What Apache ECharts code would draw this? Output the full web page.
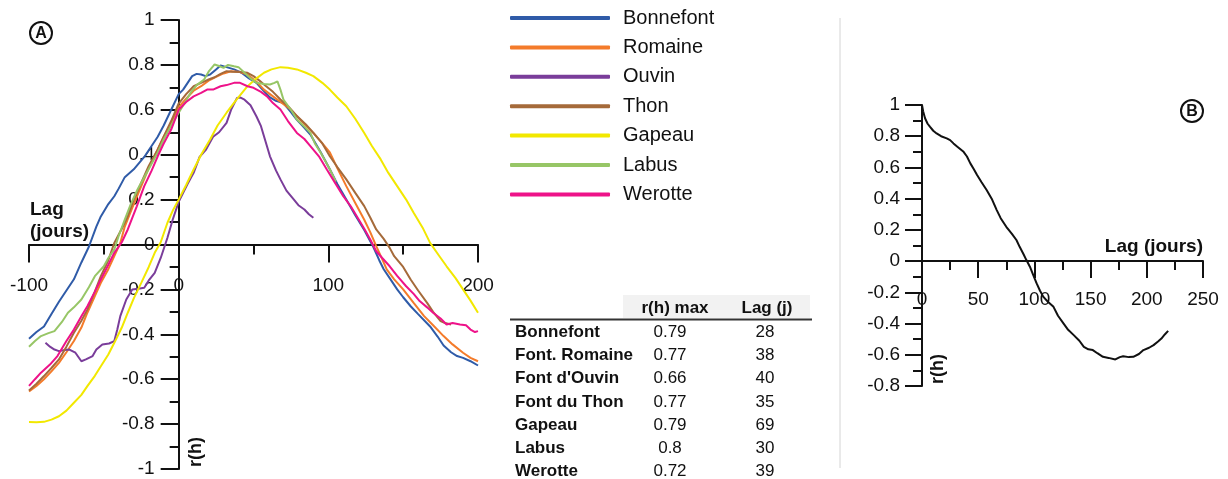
<!DOCTYPE html>
<html>
<head>
<meta charset="utf-8">
<script src="https://cdn.jsdelivr.net/npm/echarts@6/dist/echarts.min.js"></script>
<style>
html,body{margin:0;padding:0;background:#fff;}
#chart{width:1228px;height:479px;}
</style>
</head>
<body>
<div id="chart"></div>
<script>
// ---------- Panel A data: [lag (days), r(h)] ----------
const bonnefont = [[-100,-0.42],[-95,-0.39],[-90,-0.365],[-85,-0.31],[-80,-0.255],[-75,-0.205],[-70,-0.155],[-65,-0.08],[-60,-0.01],[-55,0.08],[-52,0.125],[-47,0.18],[-43,0.215],[-40,0.25],[-36,0.3],[-30,0.335],[-23,0.39],[-18,0.44],[-14,0.48],[-10,0.53],[-5,0.6],[0,0.67],[3,0.69],[6,0.72],[9,0.75],[12,0.76],[15,0.757],[18,0.75],[21,0.757],[25,0.78],[28,0.797],[32,0.79],[37,0.78],[42,0.765],[47,0.74],[52,0.72],[56,0.69],[61,0.655],[65,0.64],[70,0.63],[75,0.59],[79,0.555],[84,0.52],[88,0.49],[95,0.41],[101,0.335],[106,0.27],[112,0.2],[118,0.13],[124,0.065],[130,-0.01],[134,-0.07],[137,-0.11],[142,-0.16],[146,-0.2],[150,-0.235],[155,-0.275],[160,-0.31],[168,-0.365],[173,-0.41],[177,-0.45],[182,-0.48],[186,-0.497],[190,-0.505],[195,-0.52],[200,-0.539]];
const romaine = [[-100,-0.655],[-95,-0.63],[-90,-0.6],[-85,-0.565],[-80,-0.527],[-75,-0.48],[-70,-0.43],[-65,-0.37],[-61,-0.304],[-56,-0.23],[-52,-0.171],[-47,-0.11],[-43,-0.052],[-39,0.007],[-36,0.08],[-30,0.18],[-25,0.26],[-20,0.34],[-14,0.423],[-10,0.48],[-5,0.542],[0,0.612],[5,0.65],[10,0.685],[15,0.705],[20,0.73],[26,0.75],[30,0.762],[35,0.772],[40,0.77],[46,0.757],[52,0.725],[57,0.69],[63,0.66],[69,0.63],[75,0.6],[82,0.55],[90,0.497],[96,0.45],[101,0.41],[106,0.34],[112,0.26],[118,0.185],[124,0.11],[128,0.055],[132,-0.007],[136,-0.065],[139,-0.111],[144,-0.155],[150,-0.2],[157,-0.26],[164,-0.319],[170,-0.36],[177,-0.408],[183,-0.445],[190,-0.482],[195,-0.505],[200,-0.52]];
const ouvin = [[-89,-0.438],[-86,-0.455],[-83,-0.468],[-80,-0.475],[-76,-0.47],[-73,-0.468],[-69,-0.482],[-65,-0.52],[-62,-0.512],[-57.5,-0.497],[-55,-0.468],[-51,-0.445],[-46.5,-0.441],[-43,-0.43],[-41,-0.379],[-39,-0.319],[-35,-0.245],[-31,-0.2],[-26,-0.196],[-23,-0.193],[-20,-0.16],[-16,-0.126],[-12,-0.06],[-7.5,0.03],[-4,0.11],[0,0.19],[3,0.23],[6,0.27],[10,0.319],[14,0.39],[18,0.42],[23,0.48],[27,0.5],[32,0.542],[35,0.6],[39,0.653],[41,0.655],[44,0.645],[48,0.62],[52,0.57],[55,0.527],[58,0.46],[61,0.393],[65,0.33],[68,0.29],[72,0.24],[77,0.2],[80,0.175],[84,0.156],[87,0.135],[90,0.119]];
const thon = [[-100,-0.65],[-95,-0.62],[-90,-0.586],[-85,-0.55],[-80,-0.512],[-75,-0.455],[-70,-0.393],[-65,-0.34],[-61,-0.29],[-56,-0.21],[-52,-0.141],[-47,-0.07],[-43,0.007],[-38,0.07],[-34,0.126],[-30,0.2],[-25,0.275],[-20,0.35],[-14,0.423],[-10,0.48],[-5,0.55],[0,0.628],[5,0.67],[10,0.705],[15,0.72],[20,0.735],[24,0.745],[28,0.76],[32,0.772],[36,0.77],[41,0.768],[46,0.765],[50,0.75],[54,0.73],[57,0.713],[63,0.68],[68,0.646],[74,0.61],[79,0.572],[85,0.535],[90,0.497],[96,0.45],[101,0.393],[106,0.345],[112,0.29],[118,0.23],[124,0.171],[128,0.12],[132,0.067],[137,0.025],[141,-0.015],[144,-0.052],[150,-0.1],[155,-0.156],[160,-0.205],[166,-0.26],[170,-0.3],[175,-0.341],[178,-0.35],[182,-0.356]];
const gapeau = [[-100,-0.791],[-95,-0.792],[-90,-0.79],[-85,-0.78],[-80,-0.765],[-75,-0.74],[-70,-0.705],[-65,-0.67],[-61,-0.631],[-56,-0.585],[-52,-0.542],[-47,-0.49],[-43,-0.438],[-38,-0.37],[-34,-0.304],[-30,-0.24],[-25,-0.171],[-20,-0.1],[-16,-0.037],[-12,0.01],[-7.5,0.097],[-4,0.15],[0,0.2],[5,0.265],[10,0.334],[15,0.4],[21,0.468],[26,0.53],[32,0.587],[38,0.64],[46,0.705],[52,0.74],[57,0.765],[62,0.78],[68,0.79],[73,0.787],[79,0.78],[85,0.765],[90,0.75],[96,0.72],[101,0.69],[106,0.655],[112,0.616],[118,0.56],[124,0.497],[129,0.44],[135,0.379],[140,0.32],[146,0.26],[152,0.2],[157,0.141],[163,0.075],[168,0.007],[174,-0.05],[179,-0.097],[185,-0.15],[190,-0.2],[195,-0.25],[200,-0.304]];
const labus = [[-100,-0.455],[-96,-0.43],[-92,-0.408],[-87,-0.395],[-83,-0.386],[-78,-0.345],[-74,-0.304],[-70,-0.28],[-65,-0.245],[-60,-0.19],[-56,-0.141],[-50,-0.097],[-47,-0.06],[-43,-0.022],[-40,0.04],[-36,0.111],[-32,0.18],[-27.5,0.245],[-23,0.3],[-19,0.349],[-14,0.41],[-10,0.468],[-5,0.53],[0,0.587],[4,0.63],[8,0.676],[12,0.71],[17,0.735],[20,0.77],[24,0.802],[27,0.795],[30,0.787],[33,0.8],[37,0.794],[40,0.79],[44,0.765],[48,0.74],[52,0.72],[57,0.715],[61,0.713],[64,0.72],[66,0.727],[68,0.69],[70,0.646],[75,0.6],[79,0.557],[84,0.525],[88,0.497],[91,0.45],[95,0.408],[101,0.335],[105,0.28]];
const werotte = [[-100,-0.63],[-96,-0.6],[-92,-0.571],[-86,-0.535],[-81,-0.497],[-75,-0.43],[-70,-0.379],[-65,-0.32],[-61,-0.275],[-56,-0.21],[-52,-0.156],[-47,-0.09],[-43,-0.037],[-38,0.01],[-34,0.067],[-28,0.17],[-23,0.26],[-18,0.33],[-14,0.393],[-10,0.45],[-5,0.512],[0,0.6],[5,0.635],[10,0.66],[15,0.675],[19,0.69],[23,0.69],[28,0.705],[32,0.71],[37,0.72],[41,0.72],[46,0.705],[50,0.698],[55,0.68],[59,0.66],[63,0.63],[68,0.601],[73,0.55],[79,0.497],[84,0.47],[88,0.438],[94,0.39],[99,0.334],[104,0.28],[110,0.215],[115,0.17],[119,0.126],[124,0.07],[128,0.022],[132,-0.03],[136,-0.06],[141,-0.097],[146,-0.14],[152,-0.186],[157,-0.22],[161,-0.252],[166,-0.28],[170,-0.304],[175,-0.33],[179,-0.356],[183,-0.35],[188,-0.356],[192,-0.36],[195,-0.379],[198,-0.39],[200,-0.386]];

const seriesNames = ['Bonnefont','Romaine','Ouvin','Thon','Gapeau','Labus','Werotte'];
const seriesColors = ['#2f5ba8','#f47b2a','#7a3d9a','#a56a3a','#f2e800','#97c666','#ee1289'];
const seriesData = [bonnefont, romaine, ouvin, thon, gapeau, labus, werotte];

// ---------- Panel B data ----------
const autoCorr = [[0,1.0],[1,0.96],[2.7,0.915],[5,0.88],[7,0.861],[10,0.835],[13,0.818],[17,0.8],[22,0.786],[25,0.775],[28,0.754],[32,0.73],[37,0.7],[40,0.67],[43,0.626],[46,0.59],[49,0.551],[53,0.505],[57.5,0.455],[62,0.4],[66.5,0.327],[70,0.275],[75,0.22],[80,0.175],[84,0.135],[87,0.09],[90,0.049],[93,0.005],[96,-0.036],[99,-0.09],[102,-0.143],[105,-0.19],[108,-0.229],[112,-0.26],[117,-0.293],[121,-0.35],[126,-0.4],[130,-0.44],[135,-0.474],[140,-0.51],[144,-0.549],[148,-0.565],[152,-0.57],[156,-0.59],[161,-0.613],[166,-0.62],[172,-0.63],[176,-0.615],[179,-0.609],[184,-0.615],[188,-0.613],[193,-0.595],[197,-0.57],[202,-0.555],[206,-0.538],[210,-0.515],[213,-0.496],[216,-0.47],[219,-0.447]];

// ---------- Table ----------
const tableNames = ['Bonnefont','Font. Romaine',"Font d'Ouvin",'Font du Thon','Gapeau','Labus','Werotte'];
const tableRmax = ['0.79','0.77','0.66','0.77','0.79','0.8','0.72'];
const tableLag = ['28','38','40','35','69','30','39'];

const FONT = '"Liberation Sans", Arial, sans-serif';
const INK = '#111';

function axisCommon(extra){
  return Object.assign({
    type:'value',
    splitLine:{show:false},
    axisLine:{show:true,onZero:false,lineStyle:{color:INK,width:2}},
    axisTick:{show:true,length:18,lineStyle:{color:INK,width:2}},
    minorTick:{show:true,splitNumber:2,length:9,lineStyle:{color:INK,width:2}},
    axisLabel:{fontSize:19,color:INK,fontFamily:FONT}
  }, extra);
}

const chart = echarts.init(document.getElementById('chart'), null, {renderer:'canvas'});

const series = seriesNames.map((n,i)=>({
  name:n, type:'line', xAxisIndex:0, yAxisIndex:0,
  data:seriesData[i], symbol:'none', smooth:false,
  lineStyle:{color:seriesColors[i],width:2},
  itemStyle:{color:seriesColors[i]},
  z:2+i
}));
series.push({
  name:'B', type:'line', xAxisIndex:1, yAxisIndex:1,
  data:autoCorr, symbol:'none', lineStyle:{color:'#111',width:2}, itemStyle:{color:'#111'}
});

const graphics = [];
graphics.push({type:'line',shape:{x1:840,y1:18,x2:840,y2:468},style:{stroke:'#d4d4d4',lineWidth:1}});
function circled(cx,cy,letter){
  graphics.push({type:'circle',shape:{cx:cx,cy:cy,r:11},style:{fill:'#fff',stroke:INK,lineWidth:2}});
  graphics.push({type:'text',x:cx,y:cy+1,style:{text:letter,fontSize:16,fontWeight:'bold',fontFamily:FONT,fill:INK,align:'center',verticalAlign:'middle'}});
}
circled(41,33,'A');
circled(1192,111,'B');
graphics.push({type:'text',x:30,y:199,style:{text:'Lag\n(jours)',fontSize:19,fontWeight:'bold',fontFamily:FONT,fill:INK,lineHeight:22,align:'left',verticalAlign:'top'}});
graphics.push({type:'text',x:196,y:452,rotation:Math.PI/2,style:{text:'r(h)',fontSize:18,fontWeight:'bold',fontFamily:FONT,fill:INK,align:'center',verticalAlign:'middle'}});
graphics.push({type:'text',x:1203,y:247,style:{text:'Lag (jours)',fontSize:19,fontWeight:'bold',fontFamily:FONT,fill:INK,align:'right',verticalAlign:'middle'}});
graphics.push({type:'text',x:938,y:369,rotation:Math.PI/2,style:{text:'r(h)',fontSize:18,fontWeight:'bold',fontFamily:FONT,fill:INK,align:'center',verticalAlign:'middle'}});
graphics.push({type:'rect',shape:{x:623,y:295,width:187,height:23},style:{fill:'#f2f2f2'}});
graphics.push({type:'text',x:675,y:308,style:{text:'r(h) max',fontSize:17,fontWeight:'bold',fontFamily:FONT,fill:INK,align:'center',verticalAlign:'middle'}});
graphics.push({type:'text',x:767,y:308,style:{text:'Lag (j)',fontSize:17,fontWeight:'bold',fontFamily:FONT,fill:INK,align:'center',verticalAlign:'middle'}});
graphics.push({type:'line',shape:{x1:510,y1:319.5,x2:812,y2:319.5},style:{stroke:'#333',lineWidth:2}});
tableNames.forEach((nm,i)=>{
  const y = 332 + i*23.3;
  graphics.push({type:'text',x:515,y:y,style:{text:nm,fontSize:17,fontWeight:'bold',fontFamily:FONT,fill:INK,align:'left',verticalAlign:'middle'}});
  graphics.push({type:'text',x:670,y:y,style:{text:tableRmax[i],fontSize:17,fontFamily:FONT,fill:INK,align:'center',verticalAlign:'middle'}});
  graphics.push({type:'text',x:765,y:y,style:{text:tableLag[i],fontSize:17,fontFamily:FONT,fill:INK,align:'center',verticalAlign:'middle'}});
});

chart.setOption({
  animation:false,
  backgroundColor:'#fff',
  textStyle:{fontFamily:FONT},
  grid:[
    {left:29, top:20, width:449, height:449, containLabel:false, outerBoundsMode:'none'},
    {left:922, top:105, width:281, height:281, containLabel:false, outerBoundsMode:'none'}
  ],
  xAxis:[
    axisCommon({gridIndex:0,min:-100,max:200,interval:100,position:'bottom',offset:-224.5,
      minorTick:{show:true,splitNumber:2,length:10,lineStyle:{color:INK,width:2}},
      axisLabel:{fontSize:19,color:INK,fontFamily:FONT,margin:32}}),
    axisCommon({gridIndex:1,min:0,max:250,interval:50,position:'bottom',offset:-124.9,
      axisTick:{show:true,length:17,lineStyle:{color:INK,width:2}},
      minorTick:{show:true,splitNumber:2,length:9,lineStyle:{color:INK,width:2}},
      axisLabel:{fontSize:19,color:INK,fontFamily:FONT,margin:29}})
  ],
  yAxis:[
    axisCommon({gridIndex:0,min:-1,max:1,interval:0.2,position:'left',offset:-149.67,
      axisLabel:{fontSize:19,color:INK,fontFamily:FONT,margin:24}}),
    axisCommon({gridIndex:1,min:-0.8,max:1,interval:0.2,position:'left',
      axisTick:{show:true,length:17,lineStyle:{color:INK,width:2}},
      axisLabel:{fontSize:19,color:INK,fontFamily:FONT,margin:22}})
  ],
  legend:{
    orient:'vertical', left:510, top:8, padding:0,
    icon:'roundRect',
    itemWidth:100, itemHeight:4, itemGap:9.4,
    data:seriesNames,
    textStyle:{fontSize:20,color:INK,fontFamily:FONT,padding:[0,0,0,8]}
  },
  series:series,
  graphic:graphics
});
</script>
</body>
</html>
